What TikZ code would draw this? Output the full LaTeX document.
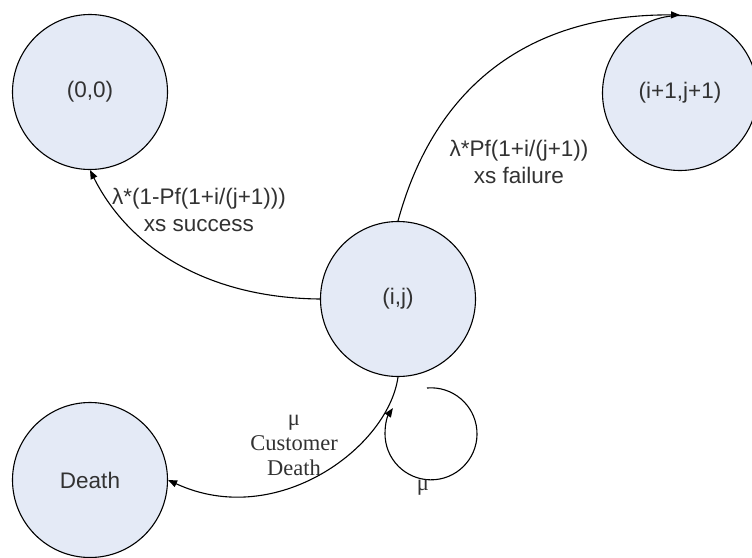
\documentclass[tikz,border=0pt]{standalone}
\usepackage{fontspec}
\setmainfont{Liberation Sans}
\newfontfamily\labelserif{Liberation Serif}
\usetikzlibrary{arrows.meta}
\definecolor{statefill}{RGB}{228,234,246}
\definecolor{labelgray}{RGB}{50,50,50}
\begin{document}
\begin{tikzpicture}[x=1pt,y=-1pt,
  state/.style={circle, draw=black, fill=statefill, line width=1.1pt,
    minimum size=155pt, inner sep=0pt, text=labelgray,
    font=\fontsize{22.5}{27}\selectfont},
  trans/.style={line width=1.1pt, -{Triangle[length=9pt,width=7pt]}},
  rate/.style={align=center, inner sep=0pt, text=labelgray,
    font=\fontsize{22.5}{27}\selectfont},
  serifrate/.style={align=center, inner sep=0pt, text=labelgray,
    font=\labelserif\fontsize{22.5}{25}\selectfont}]
\useasboundingbox (0,0) rectangle (752,557);

% states
\node[state] (n00)   at (90,92)   {(0,0)};
\node[state] (n11)   at (680,93)  {(i+1,j+1)};
\node[state] (nij)   at (398,299) {(i,j)};
\node[state] (death) at (90,480)  {Death};

% transitions
\draw[trans] (nij.west) .. controls (210,298) and (130,250) .. (n00.south);
\draw[trans] (nij.north) .. controls (435,85) and (530,14) .. (n11.north);
\draw[trans] (nij.south) .. controls (388,448) and (276,530) .. (death.east);

% loop closing back onto the death transition
\coordinate (loopstart) at (427,388);
\draw[trans] (loopstart) arc[start angle=95, end angle=-214, radius=46pt];

% rates
\node[rate] (lab00) at (199,210) {λ*(1-Pf(1+i/(j+1)))\\xs success};
\node[rate] (lab11) at (519,162) {λ*Pf(1+i/(j+1))\\xs failure};
\node[serifrate] (labdeath) at (294,445) {μ\\Customer\\Death};
\node[serifrate, anchor=base] (labloop) at (423,490) {μ};
\end{tikzpicture}
\end{document}
